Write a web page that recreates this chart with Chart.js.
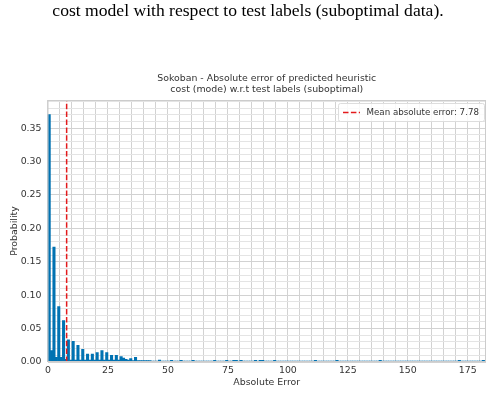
<!DOCTYPE html>
<html><head><meta charset="utf-8">
<script src="https://cdn.jsdelivr.net/npm/chart.js@4"></script>
<style>html,body{margin:0;padding:0;background:#fff;}canvas{display:block;}</style>
</head><body>
<canvas id="c" width="498" height="408"></canvas>
<script>
const captionText = "cost model with respect to test labels (suboptimal data).";
const titleLines = ["Sokoban - Absolute error of predicted heuristic", "cost (mode) w.r.t test labels (suboptimal)"];
const xAxisLabel = "Absolute Error";
const yAxisLabel = "Probability";
const legendLabel = "Mean absolute error: 7.78";
const meanError = 7.78;
const xTickLabels = [0, 25, 50, 75, 100, 125, 150, 175];
const yTickLabels = ["0.00", "0.05", "0.10", "0.15", "0.20", "0.25", "0.30", "0.35"];
// probability per absolute-error bin (bin k covers [k, k+1))
const probability = [
  0.370, 0.017, 0.172, 0.007, 0.083, 0.007, 0.062, 0.004, 0.033, 0.003,
  0.031, 0.003, 0.025, 0.003, 0.019, 0.003, 0.012, 0.003, 0.012, 0.003,
  0.014, 0.003, 0.017, 0.003, 0.014, 0.003, 0.010, 0.003, 0.010, 0.003,
  0.008, 0.006, 0.004, 0.003, 0.005, 0.002, 0.007, 0.002, 0.002, 0.002,
  0.002, 0.002, 0.002, 0.0015, 0.0015, 0.0015, 0.003, 0.0015, 0.0015, 0.0015,
  0.0015, 0.0025, 0.0015, 0.0015, 0.0015, 0.0025, 0.0015, 0.0015, 0.0015, 0.0015,
  0.0025, 0.0015, 0.0015, 0.0015, 0.0015, 0.0015, 0.0015, 0.0015, 0.0015, 0.0025,
  0.0015, 0.0015, 0.0015, 0.0015, 0.0025, 0.0015, 0.0015, 0.0025, 0.0025, 0.0015,
  0.0025, 0.0015, 0.0015, 0.0015, 0.0015, 0.0015, 0.0025, 0.0015, 0.0025, 0.0025,
  0.0015, 0.0015, 0.0015, 0.0015, 0.0025, 0.0015, 0.0015, 0.0015, 0.0015, 0.0015,
  0.0015, 0.0015, 0.0015, 0.0015, 0.0015, 0.0015, 0.0015, 0.0015, 0.0015, 0.0015,
  0.0015, 0.0025, 0.0015, 0.0015, 0.0015, 0.0015, 0.0015, 0.0015, 0.0015, 0.0015,
  0.0025, 0.0015, 0.0015, 0.0015, 0.0015, 0.0015, 0.0015, 0.0015, 0.0015, 0.0015,
  0.0015, 0.0015, 0.0015, 0.0015, 0.0015, 0.0015, 0.0015, 0.0015, 0.0025, 0.0015,
  0.0015, 0.0015, 0.0015, 0.0015, 0.0015, 0.0015, 0.0015, 0.0015, 0.0015, 0.0015,
  0.0015, 0.0015, 0.0015, 0.0015, 0.0015, 0.0015, 0.0015, 0.0015, 0.0015, 0.0015,
  0.0015, 0.0015, 0.0015, 0.0015, 0.0015, 0.0015, 0.0015, 0.0015, 0.0015, 0.0015,
  0.0015, 0.0025, 0.0015, 0.0015, 0.0015, 0.0015, 0.0015, 0.0015, 0.0015, 0.0015,
  0.0015, 0.0025, 0.0015
];

const FONT = "'DejaVu Sans', sans-serif";
const TEXT = '#333333';
const Y_MAX = 0.392;
const BAR_COLOR = '#0072B2';
const MEAN_COLOR = '#e31a1c';
const DASH = [5.5, 2.4];

const decor = {
  id: 'decor',
  beforeDraw(chart) {
    const c = chart.ctx, a = chart.chartArea;
    c.save();
    c.fillStyle = '#fff';
    c.fillRect(0, 0, chart.width, chart.height);
    c.fillStyle = '#000';
    c.font = "17.6px 'Liberation Serif', serif";
    c.textAlign = 'center';
    c.textBaseline = 'alphabetic';
    c.fillText(captionText, 248, 16);
    c.fillStyle = TEXT;
    c.font = "9.4px " + FONT;
    const cx = (a.left + a.right) / 2;
    c.fillText(titleLines[0], cx, 81);
    c.fillText(titleLines[1], cx, 92);
    c.fillText(xAxisLabel, cx, 385);
    c.translate(15, (a.top + a.bottom) / 2);
    c.rotate(-Math.PI / 2);
    c.textBaseline = 'middle';
    c.fillText(yAxisLabel, 0, 0);
    c.restore();
  },
  afterDraw(chart) {
    const c = chart.ctx, a = chart.chartArea;
    c.save();
    c.strokeStyle = '#cccccc';
    c.lineWidth = 1;
    c.strokeRect(a.left + 0.5, a.top + 0.5, a.right - a.left - 1, a.bottom - a.top - 1);
    // legend
    const bx = 338, by = 103, bw = 146, bh = 18;
    c.fillStyle = 'rgba(255,255,255,0.85)';
    c.strokeStyle = '#dddddd';
    c.beginPath();
    c.roundRect(bx + 0.5, by + 0.5, bw, bh, 2);
    c.fill();
    c.stroke();
    c.strokeStyle = MEAN_COLOR;
    c.lineWidth = 1.5;
    c.setLineDash(DASH);
    c.beginPath();
    c.moveTo(343, 112.5);
    c.lineTo(360, 112.5);
    c.stroke();
    c.setLineDash([]);
    c.fillStyle = TEXT;
    c.font = "8.7px " + FONT;
    c.textAlign = 'left';
    c.textBaseline = 'middle';
    c.fillText(legendLabel, 366.5, 112.5);
    c.restore();
  }
};

new Chart(document.getElementById('c'), {
  type: 'bar',
  data: {
    datasets: [
      {
        type: 'bar',
        label: 'histogram',
        data: probability.map((p, i) => ({ x: i + 0.5, y: p })),
        backgroundColor: BAR_COLOR,
        borderWidth: 0,
        barPercentage: 1,
        categoryPercentage: 1,
        order: 2
      },
      {
        type: 'line',
        label: legendLabel,
        data: [{ x: meanError, y: 0 }, { x: meanError, y: Y_MAX }],
        borderColor: MEAN_COLOR,
        borderWidth: 1.5,
        borderDash: DASH,
        pointRadius: 0,
        fill: false,
        order: 1
      }
    ]
  },
  options: {
    responsive: false,
    animation: false,
    devicePixelRatio: 1,
    layout: { padding: { top: 100, right: 12, left: 0, bottom: 0 } },
    plugins: { legend: { display: false }, tooltip: { enabled: false }, title: { display: false } },
    scales: {
      x: {
        type: 'linear', min: -0.2, max: 182.6, offset: false,
        grid: { offset: false, drawTicks: false, lineWidth: 1,
          color: ctx => '#d2d2d2' },
        border: { display: false },
        ticks: { stepSize: 5, autoSkip: false, maxRotation: 0, includeBounds: false, padding: 3,
          color: TEXT, font: { family: FONT, size: 9.4 },
          callback: v => xTickLabels.includes(Math.round(v)) && Math.abs(v - Math.round(v)) < 1e-6 ? String(Math.round(v)) : '' },
        afterFit: s => { s.height = 46; }
      },
      y: {
        type: 'linear', min: 0, max: Y_MAX,
        grid: { drawTicks: false, lineWidth: 1,
          color: ctx => (ctx.tick && Math.round(ctx.tick.value * 100) % 5 === 0) ? '#d2d2d2' : '#e4e4e4' },
        border: { display: false },
        ticks: { stepSize: 0.01, autoSkip: false, includeBounds: false, padding: 6,
          color: TEXT, font: { family: FONT, size: 9.4 },
          callback: v => { const s = v.toFixed(2); return yTickLabels.includes(s) ? s : ''; } },
        afterFit: s => { s.width = 47.5; }
      }
    }
  },
  plugins: [decor]
});
</script>
</body></html>
